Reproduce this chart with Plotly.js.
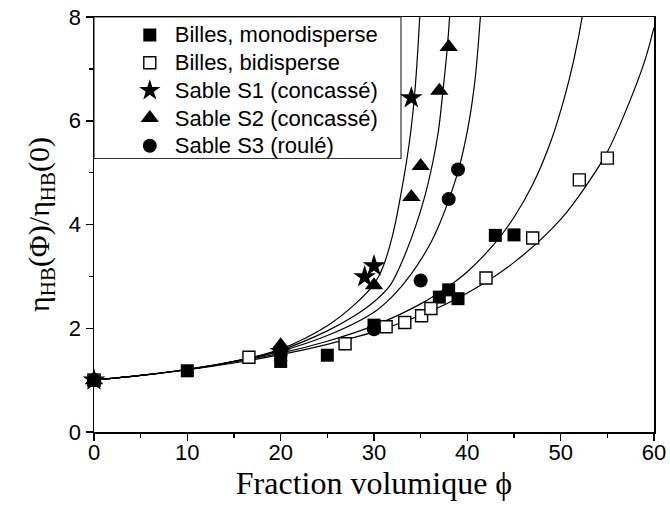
<!DOCTYPE html>
<html>
<head>
<meta charset="utf-8">
<script src="https://cdn.plot.ly/plotly-3.0.1.min.js"></script>
<style>
  html, body { margin: 0; padding: 0; background: #ffffff; }
  #chart { width: 670px; height: 517px; }
</style>
</head>
<body>
<div id="chart"></div>
<script>
// ---- Measured data points ----
const monoX = [0, 10, 20, 25, 30, 37, 38, 39, 43, 45];
const monoY = [1.0, 1.18, 1.36, 1.48, 2.06, 2.60, 2.74, 2.57, 3.79, 3.80];

const biX = [0, 16.6, 26.9, 31.3, 33.3, 35.1, 36.1, 42, 47, 52, 55];
const biY = [1.0, 1.44, 1.70, 2.03, 2.11, 2.24, 2.38, 2.97, 3.74, 4.86, 5.28];

const s1X = [0, 20, 29, 30, 34];
const s1Y = [1.0, 1.55, 2.99, 3.20, 6.44];

const s2X = [0, 20, 30, 34, 35, 37, 38];
const s2Y = [1.0, 1.67, 2.83, 4.53, 5.13, 6.58, 7.42];

const s3X = [0, 20, 30, 35, 38, 39];
const s3Y = [1.0, 1.50, 1.98, 2.92, 4.49, 5.06];

// ---- Fitted curves ----
const fitS1X = [0, 5, 10, 15, 20, 25, 28, 30, 31, 32, 33, 33.8, 34.3, 34.6, 34.9, 35.05];
const fitS1Y = [1, 1.09, 1.20, 1.36, 1.60, 2.05, 2.47, 2.85, 3.20, 3.80, 4.70, 5.60, 6.40, 7.10, 8.0, 8.5];

const fitS2X = [0, 5, 10, 15, 20, 25, 28, 30, 31.7, 33.5, 35.3, 36.3, 36.9, 37.4, 37.8, 38.1, 38.25];
const fitS2Y = [1, 1.09, 1.20, 1.36, 1.58, 1.95, 2.25, 2.51, 2.82, 3.50, 4.45, 5.20, 5.80, 6.60, 7.30, 8.0, 8.5];

const fitS3X = [0, 5, 10, 15, 20, 25, 30, 32, 34, 36, 37, 38, 39, 40, 40.8, 41.4, 41.6];
const fitS3Y = [1, 1.09, 1.21, 1.36, 1.56, 1.86, 2.31, 2.62, 3.05, 3.62, 4.00, 4.47, 5.02, 5.80, 6.75, 8.0, 8.5];

const fitMonoX = [0, 5, 10, 15, 20, 25, 30, 35, 38, 40, 43, 45, 47, 49, 50.5, 51.5, 52.3, 52.6];
const fitMonoY = [1, 1.09, 1.21, 1.35, 1.52, 1.75, 2.05, 2.47, 2.81, 3.09, 3.65, 4.14, 4.77, 5.63, 6.51, 7.25, 8.0, 8.4];

const fitBiX = [0, 5, 10, 15, 20, 25, 30, 35, 40, 45, 50, 53, 55, 57, 59, 60];
const fitBiY = [1, 1.09, 1.20, 1.33, 1.49, 1.69, 1.93, 2.25, 2.68, 3.27, 4.10, 4.82, 5.40, 6.20, 7.15, 7.80];

// ---- Text ----
const legendNames = ['Billes, monodisperse', 'Billes, bidisperse', 'Sable S1 (concassé)', 'Sable S2 (concassé)', 'Sable S3 (roulé)'];
const xTitle = 'Fraction volumique \u03D5';
const yTitle = '\u03B7<sub>HB</sub>(\u03A6)/\u03B7<sub>HB</sub>(0)';

const fits = [[fitS1X, fitS1Y], [fitS2X, fitS2Y], [fitS3X, fitS3Y], [fitMonoX, fitMonoY], [fitBiX, fitBiY]];

const traces = fits.map(f => ({
  x: f[0], y: f[1], type: 'scatter', mode: 'lines',
  line: { color: '#000', width: 1.2, shape: 'spline', smoothing: 1 },
  showlegend: false, hoverinfo: 'skip'
}));

function legendLabel(t) {
  return '<span style="font-size:22px">' + t + '</span>';
}

function markers(x, y, name, symbol, size, fill, lineW) {
  return {
    x: x, y: y, name: legendLabel(name), type: 'scatter', mode: 'markers', cliponaxis: false,
    marker: { symbol: symbol, size: size, color: fill, line: { color: '#000', width: lineW } }
  };
}

traces.push(markers(monoX, monoY, legendNames[0], 'square', 13, '#000', 0));
traces.push(markers(biX, biY, legendNames[1], 'square', 12, '#fff', 1.4));
traces.push(markers(s1X, s1Y, legendNames[2], 'star', 17, '#000', 0));
traces.push(markers(s2X, s2Y, legendNames[3], 'triangle-up', 16, '#000', 0));
traces.push(markers(s3X, s3Y, legendNames[4], 'circle', 14, '#000', 0));

const layout = {
  width: 670, height: 517,
  margin: { l: 94, r: 16, t: 17, b: 85 },
  paper_bgcolor: '#fff', plot_bgcolor: '#fff',
  font: { family: 'Liberation Sans, Arial, sans-serif', color: '#000', size: 22 },
  showlegend: true,
  legend: {
    x: 0.055, y: 1.002, xanchor: 'left', yanchor: 'top',
    bgcolor: 'rgba(0,0,0,0)', borderwidth: 0,
    font: { family: 'Liberation Sans, Arial, sans-serif', size: 19, color: '#000' },
    itemwidth: 40, tracegroupgap: 0
  },
  shapes: [{
    type: 'rect', xref: 'paper', yref: 'paper', x0: 0, x1: 0.5482, y0: 0.659, y1: 1,
    line: { color: '#333', width: 1.2 }, fillcolor: '#fff', layer: 'below'
  }],
  xaxis: {
    range: [0, 60], dtick: 10, tick0: 0,
    showgrid: false, zeroline: false,
    showline: true, linecolor: '#000', linewidth: 1.5, mirror: true,
    ticks: 'outside', ticklen: 7, tickwidth: 1.5, tickcolor: '#000',
    ticklabelstandoff: -7,
    minor: { dtick: 5, ticks: 'outside', ticklen: 4, tickwidth: 1.5, tickcolor: '#000', showgrid: false },
    tickfont: { size: 22 },
    title: { text: xTitle, font: { family: 'Liberation Serif, Times New Roman, serif', size: 32 }, standoff: 6 }
  },
  yaxis: {
    range: [0, 8], dtick: 2, tick0: 0,
    showgrid: false, zeroline: false,
    showline: true, linecolor: '#000', linewidth: 1.5, mirror: true,
    ticks: 'outside', ticklen: 7, tickwidth: 1.5, tickcolor: '#000',
    minor: { dtick: 1, ticks: 'outside', ticklen: 4, tickwidth: 1.5, tickcolor: '#000', showgrid: false },
    tickfont: { size: 22 },
    title: { text: yTitle, font: { family: 'Liberation Serif, Times New Roman, serif', size: 30 }, standoff: 10 }
  }
};

Plotly.newPlot('chart', traces, layout, { displayModeBar: false, staticPlot: true });
</script>
</body>
</html>
